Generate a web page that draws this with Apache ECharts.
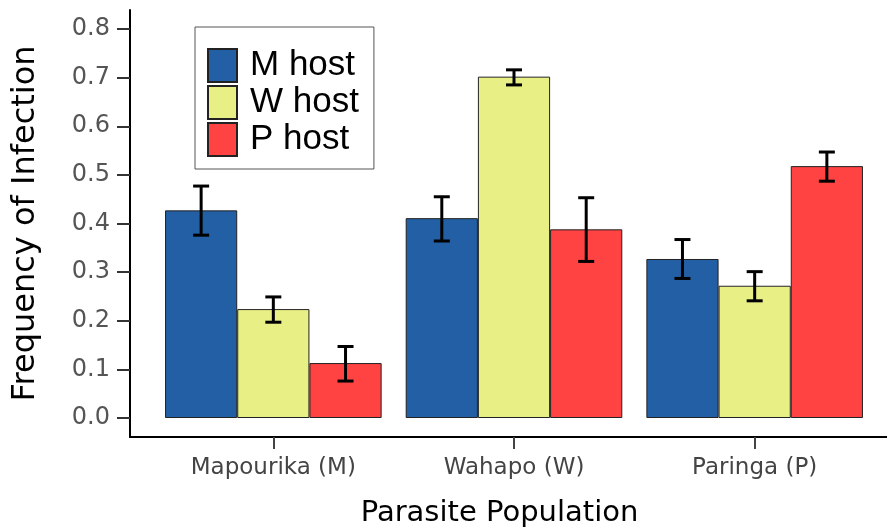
<!DOCTYPE html>
<html>
<head>
<meta charset="utf-8">
<script src="https://cdn.jsdelivr.net/npm/echarts@6/dist/echarts.min.js"></script>
<style>html,body{margin:0;padding:0;background:#fff}#c{width:887px;height:527px}</style>
</head>
<body>
<div id="c"></div>
<script>
var categories = ['Mapourika (M)', 'Wahapo (W)', 'Paringa (P)'];
var seriesNames = ['M host', 'W host', 'P host'];
var mHost = [0.427, 0.411, 0.327];
var wHost = [0.224, 0.702, 0.272];
var pHost = [0.113, 0.388, 0.518];
var mLow = [0.376, 0.364, 0.287];
var mHigh = [0.477, 0.455, 0.367];
var wLow = [0.197, 0.685, 0.241];
var wHigh = [0.249, 0.716, 0.301];
var pLow = [0.076, 0.322, 0.487];
var pHigh = [0.147, 0.453, 0.547];
var yTicks = { min: 0, max: 0.8, interval: 0.1 };

var colors = ['#235fa4', '#e8ef84', '#ff4343'];
var values = [mHost, wHost, pHost];
var lows = [mLow, wLow, pLow];
var highs = [mHigh, wHigh, pHigh];
var catGap = 0.1;

var chart = echarts.init(document.getElementById('c'), null, { renderer: 'canvas' });

var series = [];
values.forEach(function (vals, s) {
  series.push({
    name: seriesNames[s],
    type: 'bar',
    xAxisIndex: 0, yAxisIndex: 0,
    data: vals,
    barGap: '0%',
    barCategoryGap: (catGap * 100) + '%',
    itemStyle: { color: colors[s], borderColor: '#222', borderWidth: 1 },
    z: 2
  });
});
values.forEach(function (vals, s) {
  series.push({
    type: 'custom',
    xAxisIndex: 0, yAxisIndex: 0,
    data: vals.map(function (v, i) { return [i, lows[s][i], highs[s][i]]; }),
    z: 5,
    silent: true,
    renderItem: function (params, api) {
      var band = api.size([1, 0])[0];
      var bw = band * (1 - catGap) / 3;
      var off = (s - 1) * bw;
      var lo = api.coord([api.value(0), api.value(1)]);
      var hi = api.coord([api.value(0), api.value(2)]);
      var x = lo[0] + off;
      var cap = 8;
      var st = { stroke: '#000', lineWidth: 3 };
      return {
        type: 'group',
        children: [
          { type: 'line', shape: { x1: x, y1: lo[1], x2: x, y2: hi[1] }, style: st },
          { type: 'line', shape: { x1: x - cap, y1: lo[1], x2: x + cap, y2: lo[1] }, style: st },
          { type: 'line', shape: { x1: x - cap, y1: hi[1], x2: x + cap, y2: hi[1] }, style: st }
        ]
      };
    }
  });
});

chart.setOption({
  animation: false,
  backgroundColor: '#fff',
  grid: [
    { left: 153, right: 12, top: 29, bottom: 109, outerBoundsMode: 'none', containLabel: false },
    { left: 130, right: 0, top: 10, bottom: 90, outerBoundsMode: 'none', containLabel: false }
  ],
  legend: {
    data: seriesNames.map(function (n) { return { name: n, icon: 'rect' }; }),
    orient: 'vertical',
    left: 195, top: 27,
    padding: [21, 15, 12, 12],
    itemWidth: 29, itemHeight: 33, itemGap: 2,
    borderColor: '#555', borderWidth: 1,
    backgroundColor: '#fff',
    textStyle: { fontFamily: 'Liberation Sans', fontSize: 35, color: '#000', lineHeight: 33, padding: [0, 0, 0, 8] },
    selectedMode: false
  },
  xAxis: [
    {
      type: 'category', gridIndex: 0, data: categories,
      offset: 19,
      axisLine: { show: false, onZero: false },
      axisTick: { show: true, alignWithLabel: true, length: 12, lineStyle: { color: '#444', width: 2 } },
      axisLabel: { margin: 20, fontFamily: 'DejaVu Sans', fontSize: 23, color: '#444' }
    },
    {
      type: 'value', gridIndex: 1, min: 0, max: 1,
      axisLine: { show: true, onZero: false, lineStyle: { color: '#000', width: 2 } },
      axisTick: { show: false }, axisLabel: { show: false }, splitLine: { show: false },
      name: 'Parasite Population', nameLocation: 'middle', nameGap: 62,
      nameTextStyle: { fontFamily: 'DejaVu Sans', fontSize: 29, color: '#000', padding: [0, 18, 0, 0] }
    }
  ],
  yAxis: [
    {
      type: 'value', gridIndex: 0,
      min: yTicks.min, max: yTicks.max, interval: yTicks.interval,
      offset: 23,
      axisLine: { show: false, onZero: false },
      axisTick: { show: true, length: 13, lineStyle: { color: '#333', width: 2 } },
      axisLabel: { margin: 20, fontFamily: 'DejaVu Sans', fontSize: 24, color: '#555',
        formatter: function (v) { return v.toFixed(1); } },
      splitLine: { show: false }
    },
    {
      type: 'value', gridIndex: 1, min: 0, max: 1,
      axisLine: { show: true, onZero: false, lineStyle: { color: '#000', width: 2 } },
      axisTick: { show: false }, axisLabel: { show: false }, splitLine: { show: false },
      name: 'Frequency of Infection', nameLocation: 'middle', nameGap: 88, nameRotate: 90,
      nameTextStyle: { fontFamily: 'DejaVu Sans', fontSize: 32, color: '#000' }
    }
  ],
  series: series
});
</script>
</body>
</html>
